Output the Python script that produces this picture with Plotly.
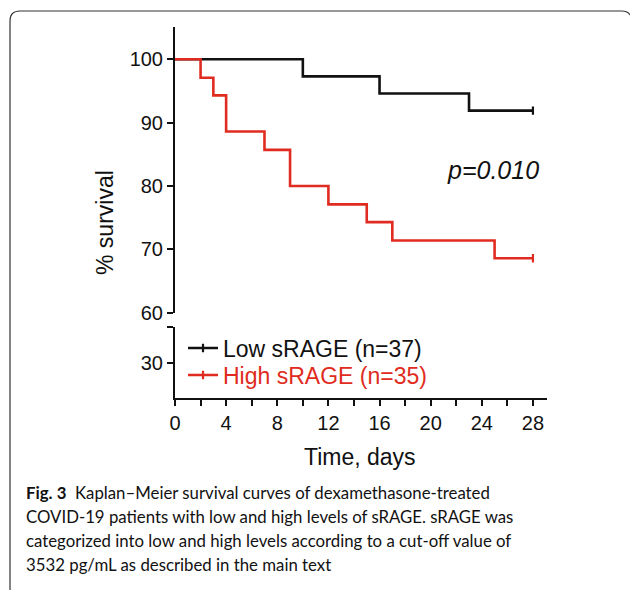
import plotly.graph_objects as go

# ---- data ----
low_days = [0, 10, 16, 23, 28]
low_surv = [100, 97.3, 94.6, 91.9, 91.9]
high_days = [0, 2, 3, 4, 7, 9, 12, 15, 17, 25, 28]
high_surv = [100, 97.1, 94.3, 88.6, 85.7, 80.0, 77.1, 74.3, 71.4, 68.6, 68.6]
low_name = "Low sRAGE (n=37)"
high_name = "High sRAGE (n=35)"
x_tickvals = list(range(0, 29, 2))
x_ticktext = [str(v) if v % 4 == 0 else "" for v in x_tickvals]
y_upper_ticks = [60, 70, 80, 90, 100]
p_text = "p=0.010"
caption_lines = [
    "<b>Fig. 3</b>\u00a0\u00a0Kaplan–Meier survival curves of dexamethasone-treated",
    "COVID-19 patients with low and high levels of sRAGE. sRAGE was",
    "categorized into low and high levels according to a cut-off value of",
    "3532 pg/mL as described in the main text",
]

BLACK = "#111111"
RED = "#e02b20"
W, H = 630, 590
L, R, T, B = 175, 83, 27, 192
PW, PH = W - L - R, H - T - B


def px(xp):
    return (xp - L) / PW


def py(yp):
    return (H - B - yp) / PH


fig = go.Figure()
series = [
    (low_days, low_surv, BLACK, low_name, "legend", 348),
    (high_days, high_surv, RED, high_name, "legend2", 375),
]
for days, surv, color, name, leg, _ in series:
    fig.add_trace(go.Scatter(x=days, y=surv, mode="lines", line=dict(color=color, width=2.6, shape="hv"),
                             showlegend=False, hoverinfo="skip"))
    # censor mark at end (also provides the legend entry)
    fig.add_trace(go.Scatter(x=days[-1:], y=surv[-1:], mode="lines+markers",
                             name=f"<span style='color:{color}'>{name}</span>", legend=leg,
                             line=dict(color=color, width=2.6),
                             marker=dict(symbol="line-ns", size=6, line=dict(color=color, width=2.2)),
                             showlegend=True))
# lower (broken) axis segment needs a trace to be drawn
fig.add_trace(go.Scatter(x=[], y=[], xaxis="x", yaxis="y2", showlegend=False, hoverinfo="skip"))

axis_font = dict(family="Liberation Sans, Arial, sans-serif", size=20, color=BLACK)
leg_font = dict(family="Liberation Sans, Arial, sans-serif", size=23, color=BLACK)
layout_legends = {}
for _, _, _, _, leg, ycen in series:
    layout_legends[leg] = dict(x=px(183), y=py(ycen), xanchor="left", yanchor="middle",
                               font=leg_font, bgcolor="rgba(0,0,0,0)")

fig.update_layout(
    width=W, height=H,
    margin=dict(l=L, r=R, t=T, b=B),
    paper_bgcolor="white", plot_bgcolor="white",
    font=dict(family="Liberation Sans, Arial, sans-serif", color=BLACK),
    xaxis=dict(range=[0, 29.1], anchor="y2", tickvals=x_tickvals, ticktext=x_ticktext,
               ticks="outside", ticklen=6, tickwidth=2, tickcolor=BLACK,
               showline=True, linewidth=2, linecolor=BLACK, showgrid=False, zeroline=False,
               tickfont=axis_font),
    yaxis=dict(domain=[py(312.7), 1], range=[60, 105.1], anchor="x",
               tickvals=y_upper_ticks, ticks="outside", ticklen=6, tickwidth=2, tickcolor=BLACK,
               showline=True, linewidth=2, linecolor=BLACK, showgrid=False, zeroline=False,
               tickfont=axis_font),
    yaxis2=dict(domain=[0, py(326.7)], range=[24.4, 35.7], anchor="x",
                tickvals=[30, 35.6], ticktext=["30", ""], ticks="outside", ticklen=6, tickwidth=2,
                tickcolor=BLACK, showline=True, linewidth=2, linecolor=BLACK, showgrid=False,
                zeroline=False, tickfont=axis_font),
    **layout_legends,
)

ann = [
    dict(x=px(105), y=py(223), text="% survival", textangle=-90, font=dict(size=23)),
    dict(x=px(360), y=py(457), text="Time, days", font=dict(size=23)),
    dict(x=px(493), y=py(170), text=f"<i>{p_text}</i>", font=dict(size=25)),
]
for a in ann:
    fig.add_annotation(xref="paper", yref="paper", showarrow=False, xanchor="center", yanchor="middle", **a)

for i, line in enumerate(caption_lines):
    fig.add_annotation(xref="paper", yref="paper", x=px(24), y=py(492 + 24 * i), text=line,
                       showarrow=False, xanchor="left", yanchor="middle",
                       font=dict(family="Lato, Open Sans, sans-serif", size=16.8, color="#111111"))

# rounded frame
path = (f"M {px(10)},{py(600)} L {px(10)},{py(21)} Q {px(10)},{py(11)} {px(20)},{py(11)} "
        f"L {px(622)},{py(11)} Q {px(628)},{py(11)} {px(631)},{py(16)}")
fig.add_shape(type="path", xref="paper", yref="paper", path=path, line=dict(color="#333333", width=1.2))

fig.write_html("out.html", config={"displayModeBar": False},
               post_script="document.body.style.margin='0';document.body.style.overflow='hidden';")
